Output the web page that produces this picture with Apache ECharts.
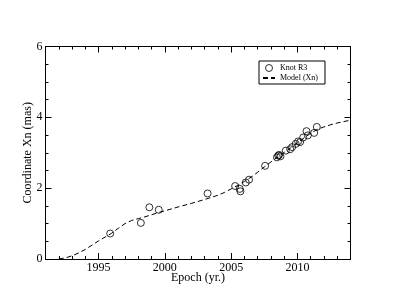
<!DOCTYPE html>
<html>
<head>
<meta charset="utf-8">
<script src="https://cdn.jsdelivr.net/npm/echarts@6/dist/echarts.min.js"></script>
<style>html,body{margin:0;padding:0;background:#fff;}#c{width:395px;height:305px;}</style>
</head>
<body>
<div id="c"></div>
<script>
// Observed positions of Knot R3: [epoch, Xn (mas)]
var knotEpochs = [1995.88, 1998.19, 1998.83, 1999.54, 2003.22, 2005.30, 2005.65, 2005.70, 2006.10, 2006.35,
  2007.56, 2008.45, 2008.55, 2008.62, 2008.72, 2009.12, 2009.45, 2009.60, 2009.87, 2010.05,
  2010.20, 2010.43, 2010.68, 2010.78, 2011.26, 2011.46];
var knotXn = [0.72, 1.02, 1.46, 1.39, 1.85, 2.06, 1.98, 1.91, 2.16, 2.24,
  2.63, 2.87, 2.92, 2.94, 2.90, 3.06, 3.10, 3.16, 3.25, 3.32,
  3.30, 3.43, 3.61, 3.49, 3.56, 3.73];
// Model curve
var modelEpochs = [1992.0, 1992.5, 1993.0, 1993.5, 1994.0, 1994.5, 1995.0, 1995.5, 1996.0, 1996.5,
  1997.0, 1997.5, 1998.0, 1998.5, 1999.0, 1999.5, 2000.0, 2001.0, 2002.0, 2003.0,
  2004.0, 2004.5, 2005.0, 2005.5, 2006.0, 2006.5, 2007.0, 2007.5, 2008.0, 2008.5,
  2009.0, 2009.5, 2010.0, 2010.5, 2011.0, 2011.5, 2012.0, 2012.5, 2013.0, 2013.5, 2014.0];
var modelXn = [0.00, 0.03, 0.09, 0.17, 0.27, 0.39, 0.51, 0.62, 0.73, 0.87,
  1.00, 1.09, 1.14, 1.19, 1.25, 1.31, 1.36, 1.47, 1.57, 1.68,
  1.80, 1.88, 1.98, 2.08, 2.19, 2.31, 2.45, 2.60, 2.74, 2.88,
  3.01, 3.14, 3.28, 3.42, 3.55, 3.66, 3.73, 3.79, 3.84, 3.88, 3.92];
// Tick values
var xMajorTicks = [1995, 2000, 2005, 2010];
var xMinorTicks = [1992, 1993, 1994, 1995, 1996, 1997, 1998, 1999, 2000, 2001, 2002, 2003,
  2004, 2005, 2006, 2007, 2008, 2009, 2010, 2011, 2012, 2013];

var knotData = knotEpochs.map(function (e, i) { return [e, knotXn[i]]; });
var modelData = modelEpochs.map(function (e, i) { return [e, modelXn[i]]; });

var FONT = 'Liberation Serif';
var AX = '#000';

function xAx(pos, major, labels, name) {
  return {
    type: 'value', position: pos, min: 1991, max: 2014,
    name: name || '', nameLocation: 'middle', nameGap: 13, nameMoveOverlap: false,
    nameTextStyle: { fontFamily: FONT, fontSize: 12, color: '#000' },
    axisLine: { show: true, onZero: false, lineStyle: { color: AX, width: 1 } },
    axisTick: { show: true, inside: true, length: major ? 6 : 3, customValues: major ? xMajorTicks : xMinorTicks,
      lineStyle: { color: AX, width: 1 } },
    axisLabel: { show: labels, customValues: xMajorTicks, margin: 3,
      formatter: function (v) { return String(v); },
      fontFamily: FONT, fontSize: 12, color: '#000' },
    splitLine: { show: false }
  };
}
function yAx(pos, labels, name) {
  return {
    type: 'value', position: pos, min: 0, max: 6, interval: 2,
    name: name || '', nameLocation: 'middle', nameGap: 12, nameMoveOverlap: false,
    nameTextStyle: { fontFamily: FONT, fontSize: 12, color: '#000' },
    axisLine: { show: true, onZero: false, lineStyle: { color: AX, width: 1 } },
    axisTick: { show: true, inside: true, length: 6, lineStyle: { color: AX, width: 1 } },
    minorTick: { show: true, splitNumber: 4, length: 3, lineStyle: { color: AX, width: 1 } },
    axisLabel: { show: labels, margin: 3, fontFamily: FONT, fontSize: 12, color: '#000' },
    splitLine: { show: false }, minorSplitLine: { show: false }
  };
}

var chart = echarts.init(document.getElementById('c'), null, { renderer: 'canvas' });
chart.setOption({
  animation: false,
  backgroundColor: '#fff',
  grid: { left: 45.5, top: 46.5, right: 44.5, bottom: 46, containLabel: false, outerBoundsMode: 'none' },
  xAxis: [
    xAx('bottom', false, false),
    xAx('bottom', true, true, 'Epoch (yr.)'),
    xAx('top', false, false),
    xAx('top', true, false)
  ],
  yAxis: [
    yAx('left', true, 'Coordinate Xn (mas)'),
    yAx('right', false)
  ],
  legend: {
    orient: 'vertical', left: 259, top: 61,
    padding: [3, 7, 2, 3], itemGap: 2, itemWidth: 12, itemHeight: 7,
    borderColor: '#000', borderWidth: 1, borderRadius: 0,
    textStyle: { fontFamily: FONT, fontSize: 8, color: '#000' },
    data: [{ name: 'Knot R3', itemStyle: { borderWidth: 1 } }, { name: 'Model (Xn)', itemStyle: { opacity: 0 } }]
  },
  series: [
    {
      name: 'Model (Xn)', type: 'line', data: modelData, smooth: false,
      symbol: 'none', xAxisIndex: 1, yAxisIndex: 0,
      itemStyle: { color: '#000' },
      lineStyle: { color: '#000', width: 1, type: [5, 3] }, z: 2
    },
    {
      name: 'Knot R3', type: 'scatter', data: knotData, symbol: 'circle', symbolSize: 7,
      xAxisIndex: 1, yAxisIndex: 0,
      itemStyle: { color: 'rgba(0,0,0,0)', borderColor: '#000', borderWidth: 1 }, z: 3
    }
  ]
});
</script>
</body>
</html>
